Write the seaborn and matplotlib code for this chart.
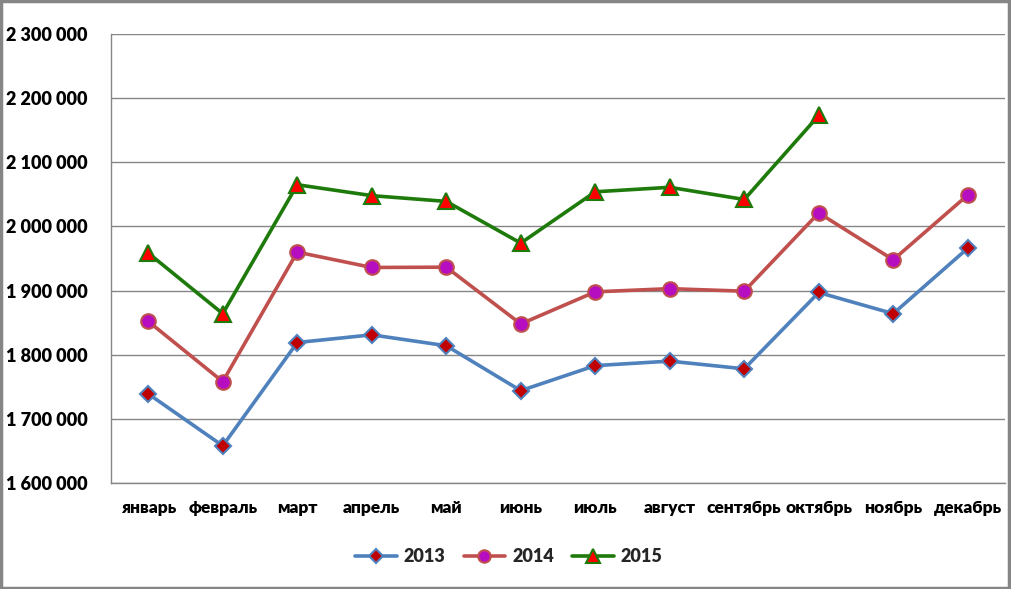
import matplotlib
matplotlib.use("Agg")
import matplotlib.pyplot as plt
import matplotlib.ticker as mticker
from matplotlib.patches import Rectangle
import seaborn as sns
import pandas as pd
import numpy as np

months = ["январь", "февраль", "март", "апрель", "май", "июнь", "июль",
          "август", "сентябрь", "октябрь", "ноябрь", "декабрь"]
v2013 = [1739000, 1658000, 1819000, 1831000, 1814000, 1744000, 1783000,
         1790000, 1778000, 1897000, 1864000, 1966000]
v2014 = [1852000, 1758000, 1960000, 1936000, 1936500, 1848000, 1898000,
         1903000, 1899000, 2021000, 1948000, 2049000]
v2015 = [1958500, 1864000, 2065000, 2048000, 2039000, 1974000, 2054000,
         2061000, 2042000, 2173000]
y_ticks = [1600000, 1700000, 1800000, 1900000, 2000000, 2100000, 2200000, 2300000]

sns.set_theme(style="white")
plt.rcParams['font.family'] = ['Lato', 'DejaVu Sans']
W = "heavy"

fig = plt.figure(figsize=(10.11, 5.89), dpi=100)
ax = fig.add_axes([111/1011, 1-483/589, 894/1011, 449/589])

series = [
    ("2013", v2013, dict(color="#4F81BD", marker="D", markersize=8,
                         markerfacecolor="#C00000", markeredgecolor="#4F81BD", markeredgewidth=1.5)),
    ("2014", v2014, dict(color="#C0504D", marker="o", markersize=10.5,
                         markerfacecolor="#B70DC0", markeredgecolor="#C0504D", markeredgewidth=1.5)),
    ("2015", v2015, dict(color="#1E7B0B", marker="^", markersize=12,
                         markerfacecolor="#FF0000", markeredgecolor="#1E7B0B", markeredgewidth=1.5)),
]
for name, vals, st in series:
    df = pd.DataFrame({"x": np.arange(len(vals)), "y": vals})
    sns.lineplot(data=df, x="x", y="y", ax=ax, label=name, linewidth=2.6, **st)

ax.set_xlim(-0.5, 11.5)
ax.set_ylim(1600000, 2300000)
ax.set_yticks(y_ticks)
ax.yaxis.set_major_formatter(mticker.FuncFormatter(lambda v, p: f"{int(v):,}".replace(",", " ")))
ax.set_xticks(range(12))
ax.set_xticklabels(months)
ax.set_xticks(np.arange(-0.5, 12, 1), minor=True)
ax.tick_params(axis="x", which="major", length=0, pad=12, labelsize=12.5)
ax.tick_params(axis="x", which="minor", length=5, color="#868686", width=1, direction="out")
ax.tick_params(axis="y", length=5, color="#868686", width=1, direction="out", pad=12, labelsize=13)
for lab in ax.get_xticklabels() + ax.get_yticklabels():
    lab.set_fontweight(W)
    lab.set_color("black")
ax.set_xlabel("")
ax.set_ylabel("")
ax.grid(axis="y", color="#868686", linewidth=1)
ax.set_axisbelow(True)
for s in ["top", "right"]:
    ax.spines[s].set_visible(False)
for s in ["left", "bottom"]:
    ax.spines[s].set_color("#868686")
    ax.spines[s].set_linewidth(1)

ax.legend(loc="center", bbox_to_anchor=(509/1011, 1-557/589), bbox_transform=fig.transFigure,
          ncol=3, frameon=False, prop={"weight": W, "size": 13}, markerscale=0.85,
          handlelength=2.3, columnspacing=1.0, handletextpad=0.4)

fig.patches.append(Rectangle((0.001, 0.001), 0.997, 0.997, transform=fig.transFigure,
                             fill=False, edgecolor="#868686", linewidth=2.5))
fig.savefig("out.png", dpi=100)
